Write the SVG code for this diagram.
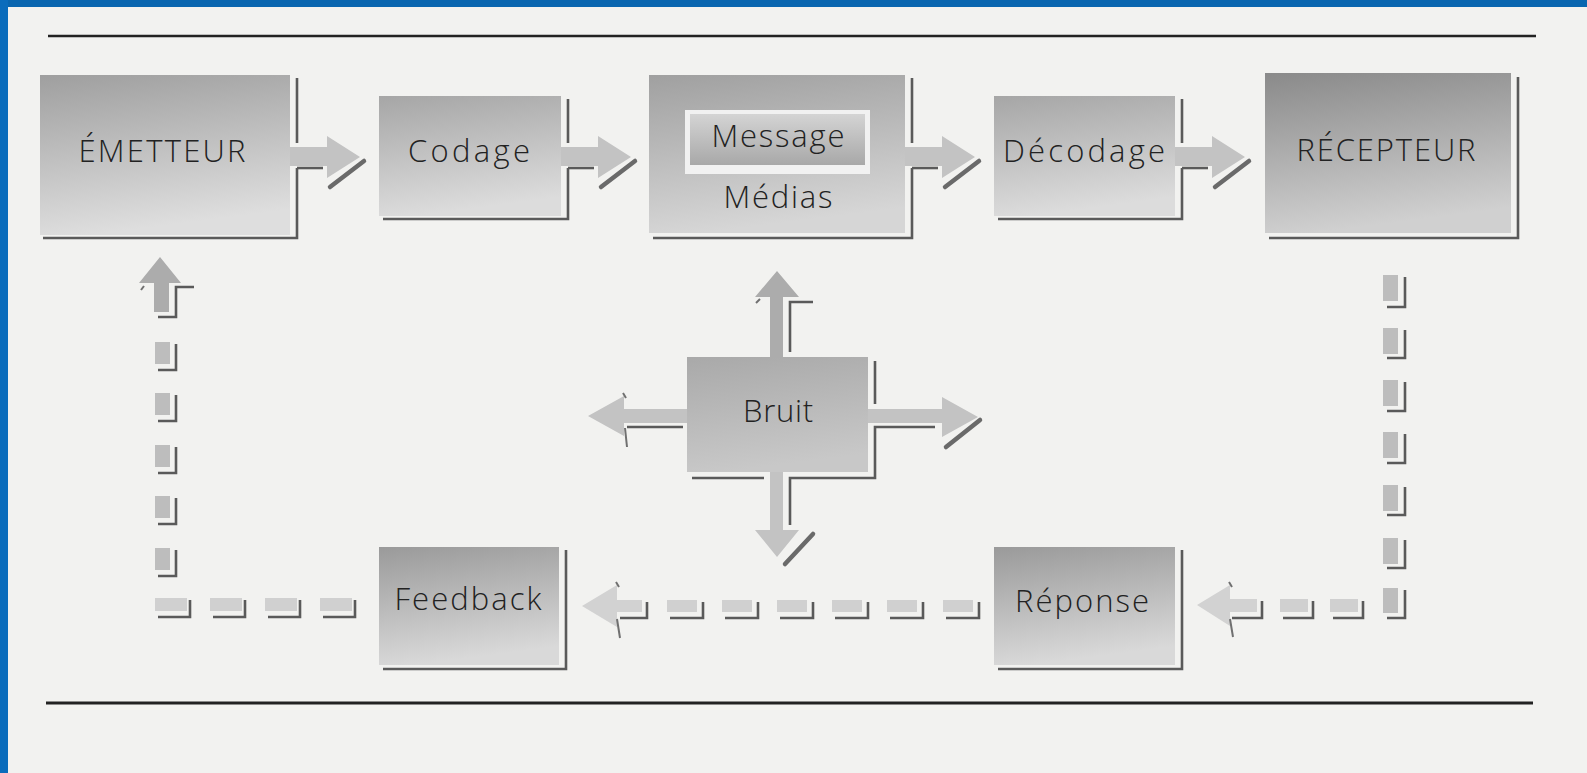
<svg xmlns="http://www.w3.org/2000/svg" width="1587" height="773" viewBox="0 0 1587 773">
<defs>
<linearGradient id="gEm" x1="0" y1="0" x2="0.2" y2="1"><stop offset="0" stop-color="#9f9f9f"/><stop offset="1" stop-color="#dedede"/></linearGradient>
<linearGradient id="gCo" x1="0" y1="0" x2="0.2" y2="1"><stop offset="0" stop-color="#a6a6a6"/><stop offset="1" stop-color="#dcdcdc"/></linearGradient>
<linearGradient id="gMe" x1="0" y1="0" x2="0.2" y2="1"><stop offset="0" stop-color="#a0a0a0"/><stop offset="1" stop-color="#d6d6d6"/></linearGradient>
<linearGradient id="gMi" x1="0" y1="0" x2="0" y2="1"><stop offset="0" stop-color="#d4d4d4"/><stop offset="1" stop-color="#a8a8a8"/></linearGradient>
<linearGradient id="gRe" x1="0" y1="0" x2="0.2" y2="1"><stop offset="0" stop-color="#8a8a8a"/><stop offset="1" stop-color="#d0d0d0"/></linearGradient>
<linearGradient id="gBr" x1="0" y1="0" x2="0.2" y2="1"><stop offset="0" stop-color="#a9a9a9"/><stop offset="1" stop-color="#c8c8c8"/></linearGradient>
<linearGradient id="gFb" x1="0" y1="0" x2="0.2" y2="1"><stop offset="0" stop-color="#9a9a9a"/><stop offset="1" stop-color="#d9d9d9"/></linearGradient>
<style>
.sh{fill:none;stroke:#5a5a5a;stroke-width:2.6}
.sl{fill:none;stroke:#6a6a6a;stroke-width:4.5;stroke-linecap:round}
.tk{fill:none;stroke:#707070;stroke-width:2}
.ar{fill:#c3c3c3}
.ard{fill:#acacac}
.arl{fill:#d2d2d2}
.dv{fill:#bdbdbd}
.dh{fill:#d0d0d0}
.lbl{font-family:"Open Sans","Liberation Sans",sans-serif;font-weight:300;font-size:31px;fill:#222;text-anchor:middle}
</style>
<g id="rarrow">
<polygon class="ar" points="0,-10 37,-10 37,-21 70,0 37,21 37,9 0,9"/>
<path class="sh" d="M7,11 H33"/>
<path class="sl" d="M40,30 L74,4"/>
</g>
</defs>
<rect x="0" y="0" width="1587" height="773" fill="#f2f2f0"/>
<rect x="0" y="0" width="1587" height="7" fill="#0966b0"/>
<rect x="0" y="0" width="8" height="773" fill="#0a6cbc"/>
<line x1="48" y1="36" x2="1536" y2="36" stroke="#222" stroke-width="2.5"/>
<line x1="46" y1="703" x2="1533" y2="703" stroke="#222" stroke-width="3"/>

<g id="emetteur">
<path class="sh" d="M297,78 V143 M297,168 V238 H43"/>
<rect x="40" y="75" width="250" height="160" fill="url(#gEm)"/>
<text class="lbl" x="162" y="162" textLength="167" lengthAdjust="spacing">ÉMETTEUR</text>
</g>
<g id="codage">
<path class="sh" d="M568,99 V143 M568,168 V219 H383"/>
<rect x="379" y="96" width="182" height="120" fill="url(#gCo)"/>
<text class="lbl" x="469" y="162" textLength="122" lengthAdjust="spacing">Codage</text>
</g>
<g id="message-medias">
<path class="sh" d="M912,78 V143 M912,168 V238 H653"/>
<rect x="649" y="75" width="256" height="158" fill="url(#gMe)"/>
<rect x="685" y="110" width="185" height="64" fill="#f1f1f1"/>
<rect x="690" y="114" width="175" height="51" fill="url(#gMi)"/>
<text class="lbl" x="778" y="147" textLength="133" lengthAdjust="spacing">Message</text>
<text class="lbl" x="778" y="208" textLength="109" lengthAdjust="spacing">Médias</text>
</g>
<g id="decodage">
<path class="sh" d="M1182,99 V143 M1182,168 V219 H998"/>
<rect x="994" y="96" width="181" height="120" fill="url(#gCo)"/>
<text class="lbl" x="1084" y="162" textLength="162" lengthAdjust="spacing">Décodage</text>
</g>
<g id="recepteur">
<path class="sh" d="M1518,77 V238 H1269"/>
<rect x="1265" y="73" width="246" height="160" fill="url(#gRe)"/>
<text class="lbl" x="1386" y="161" textLength="179" lengthAdjust="spacing">RÉCEPTEUR</text>
</g>
<g id="bruit">
<path class="sh" d="M875,361 V404 M692,478 H764 M790,525 V478 H875 V427 H935"/>
<rect x="687" y="357" width="181" height="115" fill="url(#gBr)"/>
<text class="lbl" x="778" y="422" textLength="70" lengthAdjust="spacing">Bruit</text>
</g>
<g id="feedback">
<path class="sh" d="M566,550 V669 H383"/>
<rect x="379" y="547" width="180" height="118" fill="url(#gFb)"/>
<text class="lbl" x="468" y="610" textLength="147" lengthAdjust="spacing">Feedback</text>
</g>
<g id="reponse">
<path class="sh" d="M1182,550 V669 H998"/>
<rect x="994" y="547" width="181" height="118" fill="url(#gFb)"/>
<text class="lbl" x="1082" y="612" textLength="134" lengthAdjust="spacing">Réponse</text>
</g>

<g id="connectors">
<use href="#rarrow" x="290" y="157"/>
<use href="#rarrow" x="561" y="157"/>
<use href="#rarrow" x="905" y="157"/>
<use href="#rarrow" x="1175" y="157"/>

<polygon class="ard" points="770,357 770,297 755,297 777,271 799,297 783,297 783,357"/>
<path class="sh" d="M813,302 H790 V352"/>
<path class="tk" d="M756,303 L760,299"/>

<polygon class="ar" points="687,409 624,409 624,396 588,416 624,436 624,423 687,423"/>
<path class="sh" d="M683,427 H627"/>
<path class="tk" d="M625,428 L627,447 M623,393 L626,398"/>

<polygon class="ar" points="868,409 942,409 942,397 978,417 942,437 942,423 868,423"/>
<path class="sl" d="M946,447 L980,420"/>

<polygon class="ar" points="770,472 770,530 755,530 777,557 799,530 783,530 783,472"/>
<path class="sl" d="M785,564 L813,534"/>

<polygon class="ard" points="154,312 154,283 139,283 160,257 181,283 169,283 169,312"/>
<path class="sh" d="M194,287 H176 V317 H158"/>
<path class="tk" d="M141,290 L144,286"/>
<g class="dv">
<rect x="155" y="342" width="15" height="22"/>
<rect x="155" y="393" width="15" height="22"/>
<rect x="155" y="445" width="15" height="22"/>
<rect x="155" y="496" width="15" height="22"/>
<rect x="155" y="548" width="15" height="22"/>
</g>
<path class="sh" d="M176,344 V370 H158 M176,395 V421 H158 M176,447 V473 H158 M176,498 V524 H158 M176,550 V576 H158"/>
<g class="dh">
<rect x="155" y="598" width="32" height="13"/>
<rect x="210" y="598" width="32" height="13"/>
<rect x="265" y="598" width="32" height="13"/>
<rect x="320" y="598" width="32" height="13"/>
</g>
<path class="sh" d="M190,600 V617 H158 M245,600 V617 H213 M300,600 V617 H268 M355,600 V617 H323"/>

<polygon class="arl" points="642,600 617,600 617,585 582,606 617,627 617,612 642,612"/>
<path class="sh" d="M647,602 V618 H620"/>
<path class="tk" d="M617,619 L620,638 M616,582 L619,587"/>
<g class="dh">
<rect x="667" y="600" width="30" height="12"/>
<rect x="722" y="600" width="30" height="12"/>
<rect x="777" y="600" width="30" height="12"/>
<rect x="832" y="600" width="30" height="12"/>
<rect x="887" y="600" width="30" height="12"/>
<rect x="943" y="600" width="30" height="12"/>
</g>
<path class="sh" d="M703,602 V618 H670 M758,602 V618 H725 M813,602 V618 H780 M868,602 V618 H835 M923,602 V618 H890 M979,602 V618 H946"/>

<polygon class="arl" points="1257,599 1230,599 1230,585 1197,605 1230,626 1230,612 1257,612"/>
<path class="sh" d="M1262,601 V618 H1232"/>
<path class="tk" d="M1230,619 L1233,637 M1229,582 L1232,587"/>
<g class="dh">
<rect x="1280" y="599" width="28" height="13"/>
<rect x="1330" y="599" width="28" height="13"/>
</g>
<path class="sh" d="M1313,601 V618 H1283 M1363,601 V618 H1333"/>
<g class="dv">
<rect x="1383" y="275" width="15" height="26"/>
<rect x="1383" y="328" width="15" height="26"/>
<rect x="1383" y="380" width="15" height="26"/>
<rect x="1383" y="432" width="15" height="26"/>
<rect x="1383" y="485" width="15" height="26"/>
<rect x="1383" y="538" width="15" height="26"/>
<rect x="1383" y="588" width="15" height="25"/>
</g>
<path class="sh" d="M1405,277 V307 H1387 M1405,330 V358 H1387 M1405,382 V411 H1387 M1405,434 V463 H1387 M1405,487 V515 H1387 M1405,540 V568 H1387 M1405,590 V618 H1387"/>
</g>
</svg>
